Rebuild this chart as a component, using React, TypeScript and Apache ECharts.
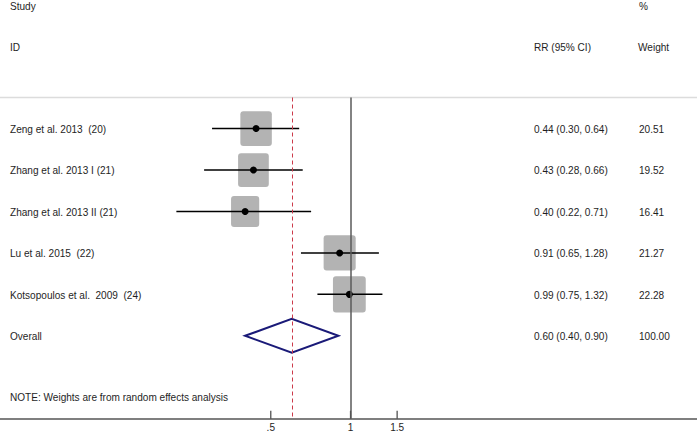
import React, { useEffect, useRef } from "react";
import * as echarts from "echarts";

const studies = [
  "Zeng et al. 2013  (20)",
  "Zhang et al. 2013 I (21)",
  "Zhang et al. 2013 II (21)",
  "Lu et al. 2015  (22)",
  "Kotsopoulos et al.  2009  (24)",
];
const rrValues = [0.44, 0.43, 0.4, 0.91, 0.99];
const lowerCI = [0.3, 0.28, 0.22, 0.65, 0.75];
const upperCI = [0.64, 0.66, 0.71, 1.28, 1.32];
const weights = [20.51, 19.52, 16.41, 21.27, 22.28];

const overallLabel = "Overall";
const overall = { rr: 0.6, lo: 0.4, hi: 0.9, weight: 100.0 };

const tickValues = [0.5, 1, 1.5];
const tickLabels = [".5", "1", "1.5"];

const FONT = '"Liberation Sans", Arial, sans-serif';
const SX = 0.915;
const TEXT_COLOR = "#1e1e1e";

const X_MIN = Math.exp(-350.5 / 115);
const X_MAX = Math.exp((697 - 350.5) / 115);
const Y_MIN = -0.75;
const Y_MAX = 7.0;

function txt(x: number, y: number, text: string, align: string = "left") {
  return {
    type: "text",
    x,
    y,
    scaleX: SX,
    style: {
      text,
      x: 0,
      y: 0,
      fill: TEXT_COLOR,
      fontSize: 11,
      fontFamily: FONT,
      align,
      verticalAlign: "middle",
    },
  };
}

const fmt = (v: number) => v.toFixed(2);

export default function App() {
  const ref = useRef<HTMLDivElement>(null);
  useEffect(() => {
    if (!ref.current) return;
    const chart = echarts.init(ref.current, null, { renderer: "svg" });
    const studyData = studies.map((s, i) => [i, rrValues[i], lowerCI[i], upperCI[i], weights[i]]);
    const overallIdx = studies.length;

    const option: any = {
      animation: false,
      backgroundColor: "#fff",
      grid: { left: 0, right: 0, top: 97.5, bottom: 14.3, containLabel: false },
      xAxis: {
        type: "log",
        logBase: Math.E,
        min: X_MIN,
        max: X_MAX,
        axisLine: { show: true, onZero: false, lineStyle: { color: "#7f7f7f", width: 2 } },
        axisTick: { show: false },
        axisLabel: { show: false },
        splitLine: { show: false },
      },
      yAxis: {
        type: "value",
        inverse: true,
        min: Y_MIN,
        max: Y_MAX,
        show: false,
        splitLine: { show: false },
      },
      graphic: [
        {
          type: "line",
          shape: { x1: 0, y1: 97.5, x2: 697, y2: 97.5 },
          style: { stroke: "#dcdcdc", lineWidth: 1.5 },
          z: 0,
        },
        txt(10, 6, "Study"),
        txt(10, 47, "ID"),
        txt(639, 6, "%"),
        txt(534, 47, "RR (95% CI)"),
        txt(638, 47, "Weight"),
        txt(10, 397, "NOTE: Weights are from random effects analysis"),
      ],
      series: [
        {
          type: "custom",
          name: "studies",
          data: studyData,
          encode: { x: [1, 2, 3], y: 0 },
          z: 3,
          renderItem: (params: any, api: any) => {
            const i = api.value(0);
            const rr = api.value(1);
            const lo = api.value(2);
            const hi = api.value(3);
            const w = api.value(4);
            const c = api.coord([rr, i]);
            const pl = api.coord([lo, i]);
            const ph = api.coord([hi, i]);
            const bw = 6.95 * Math.sqrt(w);
            const bh = 7.65 * Math.sqrt(w);
            return {
              type: "group",
              children: [
                {
                  type: "rect",
                  shape: { x: c[0] - bw / 2, y: c[1] - bh / 2, width: bw, height: bh, r: 3 },
                  style: { fill: "#b3b3b3" },
                },
                {
                  type: "line",
                  shape: { x1: pl[0], y1: c[1], x2: ph[0], y2: c[1] },
                  style: { stroke: "#000", lineWidth: 1.5 },
                },
                {
                  type: "circle",
                  shape: { cx: c[0], cy: c[1], r: 3.5 },
                  style: { fill: "#000" },
                },
                txt(10, c[1], studies[params.dataIndex]),
                txt(534, c[1], `${fmt(rr)} (${fmt(lo)}, ${fmt(hi)})`),
                txt(639, c[1], fmt(w)),
              ],
            };
          },
        },
        {
          type: "custom",
          name: "overall",
          data: [[overallIdx, overall.rr, overall.lo, overall.hi, overall.weight]],
          encode: { x: [1, 2, 3], y: 0 },
          z: 3,
          renderItem: (params: any, api: any) => {
            const i = api.value(0);
            const rr = api.value(1);
            const lo = api.value(2);
            const hi = api.value(3);
            const w = api.value(4);
            const c = api.coord([rr, i]);
            const pl = api.coord([lo, i]);
            const ph = api.coord([hi, i]);
            const hh = 17;
            return {
              type: "group",
              children: [
                {
                  type: "polygon",
                  shape: {
                    points: [
                      [pl[0], c[1]],
                      [c[0], c[1] - hh],
                      [ph[0], c[1]],
                      [c[0], c[1] + hh],
                    ],
                  },
                  style: { fill: "rgba(255,255,255,0)", stroke: "#1a1a78", lineWidth: 2 },
                },
                txt(10, c[1], overallLabel),
                txt(534, c[1], `${fmt(rr)} (${fmt(lo)}, ${fmt(hi)})`),
                txt(639, c[1], w.toFixed(2)),
              ],
            };
          },
          markLine: {
            silent: true,
            symbol: "none",
            label: { show: false },
            data: [
              { xAxis: 1, lineStyle: { color: "#5a5a5a", width: 1.5, type: "solid" } },
              { xAxis: overall.rr, lineStyle: { color: "#cc3a4a", width: 1, type: [4, 3] } },
            ],
          },
        },
        {
          type: "custom",
          name: "ticks",
          data: tickValues.map((v) => [v]),
          encode: { x: 0 },
          z: 4,
          renderItem: (params: any, api: any) => {
            const v = api.value(0);
            const p = api.coord([v, Y_MAX]);
            return {
              type: "group",
              children: [
                {
                  type: "line",
                  shape: { x1: p[0], y1: p[1] - 8, x2: p[0], y2: p[1] },
                  style: { stroke: "#444", lineWidth: 1.2 },
                },
                txt(p[0], p[1] + 7.8, tickLabels[params.dataIndex], "center"),
              ],
            };
          },
        },
      ],
    };
    chart.setOption(option);
    return () => chart.dispose();
  }, []);
  return (
    <div
      ref={ref}
      style={{ position: "absolute", left: 0, top: 0, width: 697, height: 433 }}
    />
  );
}
